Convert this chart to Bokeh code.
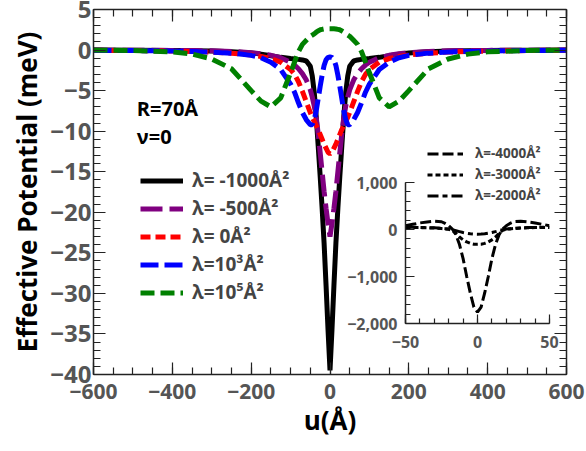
from bokeh.plotting import figure
from bokeh.models import (Legend, LegendItem, LinearAxis, FixedTicker, Label, Range1d)
from bokeh.embed import file_html
from bokeh.resources import INLINE

# ---------------- data ----------------
u = [-600, -500, -400, -350, -300, -250, -200, -175, -150, -125, -100, -90, -80, -70, -60,
     -50, -45, -40, -35, -30, -25, -20, -15, -10, -5, 0,
     5, 10, 15, 20, 25, 30, 35, 40, 45, 50,
     60, 70, 80, 90, 100, 125, 150, 175, 200, 250, 300, 350, 400, 500, 600]

v_m1000 = [0.0, -0.02, -0.05, -0.08, -0.12, -0.2, -0.35, -0.5, -0.7, -0.9, -1.05, -1.1, -1.15, -1.22, -1.35,
           -2.0, -3.2, -5.2, -8.2, -11.8, -15.5, -19.5, -23.8, -29.0, -34.5, -39.5,
           -34.5, -29.0, -23.8, -19.5, -15.5, -11.8, -8.2, -5.2, -3.2, -2.0,
           -1.35, -1.22, -1.15, -1.1, -1.05, -0.9, -0.7, -0.5, -0.35, -0.2, -0.12, -0.08, -0.05, -0.02, 0.0]

v_m500 = [0.0, -0.02, -0.04, -0.06, -0.1, -0.17, -0.32, -0.45, -0.65, -0.95, -1.5, -1.85, -2.3, -2.9, -3.7,
          -4.9, -5.8, -6.9, -8.3, -10.3, -12.6, -15.0, -17.4, -19.5, -21.4, -23.0,
          -21.4, -19.5, -17.4, -15.0, -12.6, -10.3, -8.3, -6.9, -5.8, -4.9,
          -3.7, -2.9, -2.3, -1.85, -1.5, -0.95, -0.65, -0.45, -0.32, -0.17, -0.1, -0.06, -0.04, -0.02, 0.0]

v_0 = [-0.03, -0.06, -0.12, -0.17, -0.25, -0.38, -0.6, -0.8, -1.05, -1.5, -2.4, -3.0, -3.9, -5.1, -6.4,
       -7.7, -8.3, -8.8, -9.3, -9.8, -10.4, -11.0, -11.6, -12.1, -12.6, -12.8,
       -12.6, -12.1, -11.6, -11.0, -10.4, -9.8, -9.3, -8.8, -8.3, -7.7,
       -6.4, -5.1, -3.9, -3.0, -2.4, -1.5, -1.05, -0.8, -0.6, -0.38, -0.25, -0.17, -0.12, -0.06, -0.03]

v_1e3 = [-0.03, -0.06, -0.12, -0.17, -0.25, -0.38, -0.65, -0.95, -1.5, -2.4, -4.2, -5.2, -6.5, -7.7, -8.6,
         -9.2, -9.2, -8.6, -7.5, -6.0, -4.5, -3.1, -1.9, -1.2, -0.9, -0.85,
         -0.9, -1.2, -1.9, -3.1, -4.5, -6.0, -7.5, -8.6, -9.2, -9.2,
         -8.6, -7.7, -6.5, -5.2, -4.2, -2.4, -1.5, -0.95, -0.65, -0.38, -0.25, -0.17, -0.12, -0.06, -0.03]

v_1e5 = [0.0, -0.05, -0.22, -0.5, -1.1, -2.3, -5.0, -6.3, -7.0, -5.9, -2.8, -1.5, -0.2, 0.7, 1.2,
         1.7, 1.85, 2.0, 2.2, 2.35, 2.5, 2.55, 2.6, 2.62, 2.63, 2.63,
         2.63, 2.62, 2.6, 2.55, 2.5, 2.35, 2.2, 2.0, 1.85, 1.7,
         1.2, 0.7, -0.2, -1.5, -2.8, -5.9, -7.0, -6.3, -5.0, -2.3, -1.1, -0.5, -0.22, -0.05, 0.0]

labels_main = ["λ= -1000Å²", "λ= -500Å²", "λ= 0Å²", "λ=10³Å²", "λ=10⁵Å²"]
colors_main = ["black", "purple", "red", "blue", "green"]
dashes_main = ["solid", "22 7", "10 5", "18 6", "14 6"]

u_in = [-50, -45, -40, -35, -30, -25, -22.5, -20, -17.5, -15, -12.5, -10, -7.5, -5, -2.5, 0,
        2.5, 5, 7.5, 10, 12.5, 15, 17.5, 20, 22.5, 25, 30, 35, 40, 45, 50]
v_m4000 = [80, 110, 140, 160, 175, 165, 130, 80, 10, -110, -320, -620, -1000, -1350, -1650, -1760,
           -1650, -1350, -1000, -620, -320, -110, 10, 80, 130, 165, 175, 160, 140, 110, 80]
v_m3000 = [40, 40, 40, 35, 30, 20, 12, 5, -20, -80, -160, -220, -265, -295, -312, -315,
           -312, -295, -265, -220, -160, -80, -20, 5, 12, 20, 30, 35, 40, 40, 40]
v_m2000 = [50, 48, 45, 40, 35, 25, 18, 10, -5, -25, -45, -65, -80, -92, -98, -100,
           -98, -92, -80, -65, -45, -25, -5, 10, 18, 25, 35, 40, 45, 48, 50]
labels_in = ["λ=-4000Å²", "λ=-3000Å²", "λ=-2000Å²"]
dashes_in = ["11 4", "5 3", "11 4 5 4"]

xticks_main = [-600, -400, -200, 0, 200, 400, 600]
yticks_main = [-40, -35, -30, -25, -20, -15, -10, -5, 0, 5]
xticks_in = [-50, 0, 50]
yticks_in = [-2000, -1000, 0, 1000]

FONT = "Open Sans"
GREY = "#555555"
AX = "#222222"
NAN = float("nan")


def fmt(t, comma=False):
    s = f"{abs(t):,}" if comma else f"{abs(t)}"
    return ("−" + s) if t < 0 else s


def style_axis(ax, ticks, minor, labels=True, size="21px", tin=12, min_in=7):
    ax.ticker = FixedTicker(ticks=ticks, minor_ticks=minor)
    ax.major_tick_in = tin
    ax.major_tick_out = 0
    ax.minor_tick_in = min_in
    ax.minor_tick_out = 0
    ax.axis_line_color = AX
    ax.axis_line_width = 1.5
    ax.major_tick_line_color = AX
    ax.minor_tick_line_color = AX
    ax.major_tick_line_width = 1.2
    ax.minor_tick_line_width = 1.2
    if labels:
        ax.major_label_text_font = FONT
        ax.major_label_text_font_style = "bold"
        ax.major_label_text_font_size = size
        ax.major_label_text_color = GREY
    else:
        ax.major_label_overrides = {t: "" for t in ticks}
        ax.major_label_standoff = 0


# ---------------- main figure ----------------
p = figure(frame_width=473, frame_height=365, min_border_left=93, min_border_right=20,
           min_border_top=9, min_border_bottom=77, output_backend="svg", toolbar_location=None,
           x_range=Range1d(-600, 600), y_range=Range1d(-40, 5))
p.outline_line_color = None
p.xgrid.visible = False
p.ygrid.visible = False

renderers = []
for vals, c, d in zip([v_m1000, v_m500, v_0, v_1e3, v_1e5], colors_main, dashes_main):
    renderers.append(p.line(u, vals, line_color=c, line_width=5, line_dash=d))

xminor = list(range(-600, 601, 50))
yminor = list(range(-40, 6, 1))
style_axis(p.xaxis[0], xticks_main, xminor, size="21px")
style_axis(p.yaxis[0], yticks_main, yminor, size="24px")
p.xaxis[0].major_label_overrides = {t: fmt(t) for t in xticks_main}
p.yaxis[0].major_label_overrides = {t: fmt(t) for t in yticks_main}
p.xaxis[0].major_label_standoff = 9
p.yaxis[0].major_label_standoff = 2
p.xaxis[0].axis_label = "u(Å)"
p.yaxis[0].axis_label = "Effective Potential (meV)"
for ax in (p.xaxis[0], p.yaxis[0]):
    ax.axis_label_text_font = FONT
    ax.axis_label_text_font_style = "bold"
    ax.axis_label_text_font_size = "26px"
    ax.axis_label_text_color = "black"
p.xaxis[0].axis_label_standoff = 0
p.yaxis[0].axis_label_standoff = 2

top = LinearAxis()
style_axis(top, xticks_main, xminor, labels=False)
p.add_layout(top, "above")
right = LinearAxis()
style_axis(right, yticks_main, yminor, labels=False)
p.add_layout(right, "right")

leg = Legend(items=[LegendItem(label=l, renderers=[r]) for l, r in zip(labels_main, renderers)],
             location=(47, 69))
leg.border_line_color = None
leg.background_fill_alpha = 0
leg.padding = 0
leg.margin = 0
leg.glyph_width = 43
leg.glyph_height = 21
leg.label_height = 21
leg.spacing = 2
leg.label_standoff = 9
leg.label_text_font = FONT
leg.label_text_font_style = "bold"
leg.label_text_font_size = "19px"
p.add_layout(leg)

for txt, yy in (("R=70Å", -7.2), ("ν=0", -10.6)):
    p.add_layout(Label(x=-490, y=yy, text=txt, text_font=FONT, text_font_style="bold",
                       text_font_size="20px", text_baseline="middle", text_color="black"))

# legend of the inset (drawn in the main frame, since it sticks out of the inset frame)
proxies = [p.line([NAN], [NAN], line_color="black", line_width=3, line_dash=d) for d in dashes_in]
leg2 = Legend(items=[LegendItem(label=l, renderers=[r]) for l, r in zip(labels_in, proxies)],
              location=(334, 170))
leg2.border_line_color = None
leg2.background_fill_alpha = 0
leg2.padding = 0
leg2.margin = 0
leg2.glyph_width = 36
leg2.glyph_height = 15
leg2.label_height = 15
leg2.spacing = 3
leg2.label_standoff = 12
leg2.label_text_font = FONT
leg2.label_text_font_style = "bold"
leg2.label_text_font_size = "13.5px"
p.add_layout(leg2)

# ---------------- inset figure ----------------
q = figure(frame_width=144, frame_height=141, min_border_left=80, min_border_right=30,
           min_border_top=20, min_border_bottom=30, output_backend="svg", toolbar_location=None,
           x_range=Range1d(-50, 50), y_range=Range1d(-2000, 1000))
q.background_fill_alpha = 0
q.border_fill_alpha = 0
q.outline_line_color = None
q.xgrid.visible = False
q.ygrid.visible = False
for vals, d in zip([v_m4000, v_m3000, v_m2000], dashes_in):
    q.line(u_in, vals, line_color="black", line_width=3, line_dash=d)
style_axis(q.xaxis[0], xticks_in, list(range(-50, 51, 10)), size="16px", tin=9, min_in=5)
style_axis(q.yaxis[0], yticks_in, list(range(-2000, 1001, 200)), size="16px", tin=9, min_in=5)
q.xaxis[0].major_label_overrides = {t: fmt(t) for t in xticks_in}
q.yaxis[0].major_label_overrides = {t: fmt(t, comma=True) for t in yticks_in}
q.xaxis[0].major_label_standoff = 12
q.yaxis[0].major_label_standoff = 8

q.styles = {"position": "absolute", "left": "325px", "top": "162px"}

open("out.html", "w").write(file_html([p, q], INLINE))
